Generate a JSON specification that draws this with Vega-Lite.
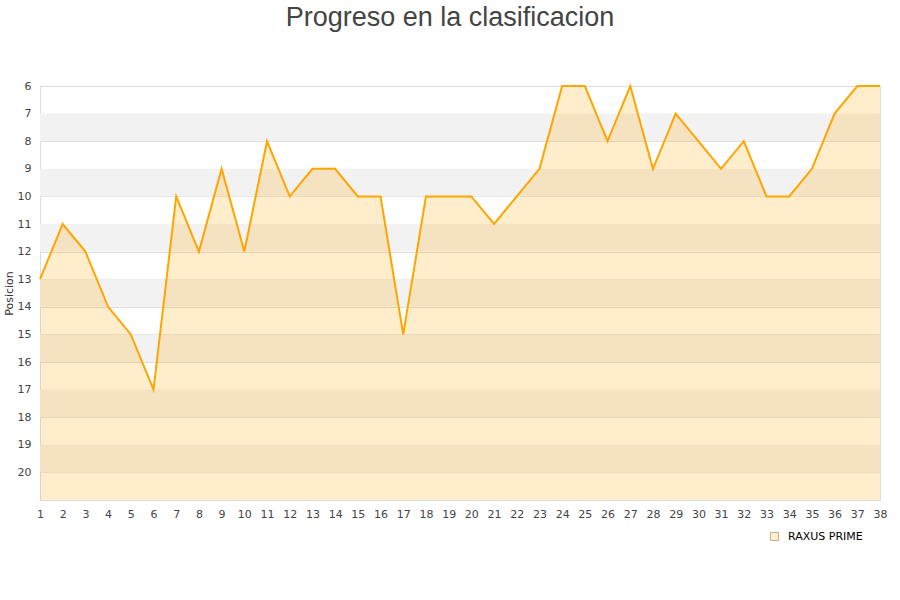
{
  "$schema": "https://vega.github.io/schema/vega-lite/v6.json",
  "width": 840,
  "height": 414,
  "autosize": {"type": "none"},
  "padding": {"left": 40, "top": 86, "right": 20, "bottom": 100},
  "background": "white",
  "title": {
    "text": "Progreso en la clasificacion",
    "font": "Liberation Sans",
    "fontSize": 27,
    "fontWeight": "normal",
    "color": "#444444",
    "anchor": "middle",
    "frame": "group",
    "baseline": "top",
    "offset": 48,
    "dx": -10
  },
  "config": {
    "view": {"stroke": "#dddddd", "strokeWidth": 1},
    "axis": {"labelFont": "DejaVu Sans", "labelFontSize": 11, "labelColor": "#444444", "titleFont": "DejaVu Sans", "titleFontSize": 11, "titleFontWeight": "normal", "titleColor": "#333333", "labelOverlap": false},
    "axisX": {"labelOverlap": false, "labelFlush": false, "tickCount": 40},
    "axisY": {"labelOverlap": false, "labelFlush": false, "tickCount": 20}
  },
  "datasets": {
    "bands": [
      {"b0": 7, "b1": 8}, {"b0": 9, "b1": 10}, {"b0": 11, "b1": 12}, {"b0": 13, "b1": 14},
      {"b0": 15, "b1": 16}, {"b0": 17, "b1": 18}, {"b0": 19, "b1": 20}
    ],
    "pos": [
      {"j": 1, "p": 13}, {"j": 2, "p": 11}, {"j": 3, "p": 12}, {"j": 4, "p": 14}, {"j": 5, "p": 15},
      {"j": 6, "p": 17}, {"j": 7, "p": 10}, {"j": 8, "p": 12}, {"j": 9, "p": 9}, {"j": 10, "p": 12},
      {"j": 11, "p": 8}, {"j": 12, "p": 10}, {"j": 13, "p": 9}, {"j": 14, "p": 9}, {"j": 15, "p": 10},
      {"j": 16, "p": 10}, {"j": 17, "p": 15}, {"j": 18, "p": 10}, {"j": 19, "p": 10}, {"j": 20, "p": 10},
      {"j": 21, "p": 11}, {"j": 22, "p": 10}, {"j": 23, "p": 9}, {"j": 24, "p": 6}, {"j": 25, "p": 6},
      {"j": 26, "p": 8}, {"j": 27, "p": 6}, {"j": 28, "p": 9}, {"j": 29, "p": 7}, {"j": 30, "p": 8},
      {"j": 31, "p": 9}, {"j": 32, "p": 8}, {"j": 33, "p": 10}, {"j": 34, "p": 10}, {"j": 35, "p": 9},
      {"j": 36, "p": 7}, {"j": 37, "p": 6}, {"j": 38, "p": 6}
    ]
  },
  "layer": [
    {
      "data": {"name": "bands"},
      "mark": {"type": "rect", "fill": "#f2f2f2"},
      "encoding": {
        "y": {"field": "b0", "type": "quantitative", "scale": {"domain": [6, 21], "reverse": true, "nice": false, "zero": false},
          "axis": {"values": [6,7,8,9,10,11,12,13,14,15,16,17,18,19,20], "tickCount": 20, "title": "Posicion", "ticks": false, "domain": false, "gridColor": "#dddddd", "labelPadding": 9, "titlePadding": 3, "labelOverlap": false, "labelFlush": false}},
        "y2": {"field": "b1"},
        "x": {"datum": 1, "type": "quantitative", "scale": {"domain": [1, 38], "nice": false, "zero": false},
          "axis": {"values": [1,2,3,4,5,6,7,8,9,10,11,12,13,14,15,16,17,18,19,20,21,22,23,24,25,26,27,28,29,30,31,32,33,34,35,36,37,38], "tickCount": 40, "title": null, "grid": false, "ticks": false, "domainColor": "#dddddd", "labelPadding": 8, "format": "d", "labelOverlap": false, "labelFlush": false}},
        "x2": {"datum": 38}
      }
    },
    {
      "data": {"name": "pos"},
      "mark": {"type": "area", "fill": "#ffa500", "fillOpacity": 0.2},
      "encoding": {
        "x": {"field": "j", "type": "quantitative"},
        "y": {"field": "p", "type": "quantitative"},
        "y2": {"datum": 21}
      }
    },
    {
      "data": {"name": "pos"},
      "mark": {"type": "line", "stroke": "#ffa500", "strokeWidth": 2},
      "encoding": {
        "x": {"field": "j", "type": "quantitative"},
        "y": {"field": "p", "type": "quantitative"}
      }
    },
    {
      "data": {"name": "pos"},
      "mark": {"type": "point", "filled": true, "size": 0, "stroke": "#b08a50", "strokeWidth": 0},
      "encoding": {
        "x": {"field": "j", "type": "quantitative"},
        "y": {"field": "p", "type": "quantitative"},
        "fill": {"datum": "RAXUS PRIME", "scale": {"range": ["#ffe9c4"]},
          "legend": {"title": null, "orient": "none", "legendX": 729, "legendY": 445, "symbolType": "square", "symbolSize": 64, "labelOffset": 8,
            "symbolStrokeWidth": 1, "symbolStrokeColor": "#b08a50",
            "labelFont": "DejaVu Sans", "labelFontSize": 11, "labelColor": "#000000"}}
      }
    }
  ]
}
